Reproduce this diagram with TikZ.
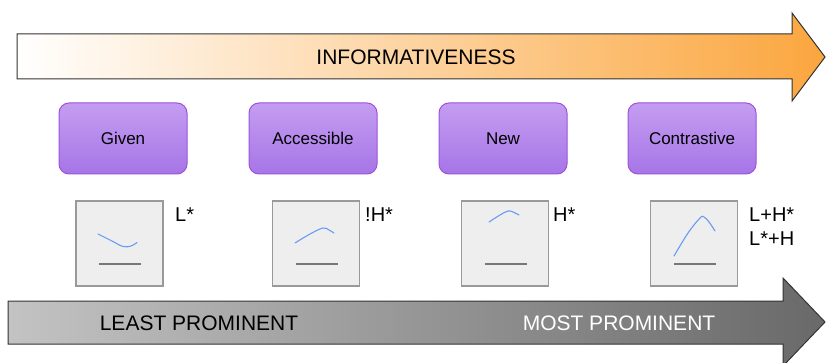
\documentclass[tikz,border=0pt]{standalone}
\usepackage{fontspec}
\setmainfont{Liberation Sans}
\definecolor{infoorange}{HTML}{FBA63E}
\definecolor{arrowline}{HTML}{333333}
\definecolor{promlight}{HTML}{C3C3C3}
\definecolor{promdark}{HTML}{696969}
\definecolor{cattop}{HTML}{C49DF1}
\definecolor{catbottom}{HTML}{A675E7}
\definecolor{catborder}{HTML}{A050DC}
\definecolor{sqfill}{HTML}{EEEEEE}
\definecolor{sqborder}{HTML}{999999}
\definecolor{pitchblue}{HTML}{6A9BF4}
\definecolor{refgray}{HTML}{777777}
\begin{document}
\begin{tikzpicture}[x=1pt,y=-1pt,
	category/.style={draw=catborder,line width=1pt,rounded corners=10pt,top color=cattop,bottom color=catbottom,minimum width=128pt,minimum height=71pt,inner sep=0pt,font=\fontsize{17}{20}\selectfont},
	contour/.style={draw=sqborder,fill=sqfill,line width=1.2pt,minimum width=87pt,minimum height=85pt,inner sep=0pt},
	pitch/.style={draw=pitchblue,line width=1.1pt,line cap=round},
	ref/.style={draw=refgray,line width=1.1pt},
	accent/.style={anchor=base west,inner sep=0pt,font=\fontsize{20}{24}\selectfont},
	bigtext/.style={inner sep=0pt,font=\fontsize{21}{25}\selectfont}]
	\useasboundingbox (0,0) rectangle (826,363);
	% arrows
	\shadedraw[left color=white,right color=infoorange,draw=arrowline,line width=1pt] (17,34) -- (792,34) -- (792,13) -- (825,57) -- (792,101) -- (792,79) -- (17,79) -- cycle;
	\shadedraw[left color=promlight,right color=promdark,draw=arrowline,line width=1pt] (8,301) -- (783,301) -- (783,278) -- (825,322) -- (783,366) -- (783,344) -- (8,344) -- cycle;
	\node[bigtext] (informativeness) at (416,57) {INFORMATIVENESS};
	\node[bigtext] (least) at (199,323) {LEAST PROMINENT};
	\node[bigtext,text=white] (most) at (619,323) {MOST PROMINENT};
	% categories
	\node[category] (given) at (123,138.5) {Given};
	\node[category] (accessible) at (313,138.5) {Accessible};
	\node[category] (new) at (503,138.5) {New};
	\node[category] (contrastive) at (692,138.5) {Contrastive};
	% contours
	\node[contour] (sqgiven) at (119.5,243.5) {};
	\node[contour] (sqaccessible) at (316,243.5) {};
	\node[contour] (sqnew) at (505,243.5) {};
	\node[contour] (sqcontrastive) at (694,243.5) {};
	\draw[ref] (99,264) -- (141,264);
	\draw[ref] (296,264) -- (338,264);
	\draw[ref] (485,264) -- (527,264);
	\draw[ref] (674,264) -- (716,264);
	\draw[pitch] plot[smooth,tension=0.6] coordinates {(98,234) (112,241) (123,246.5) (131,246) (137,242.5)};
	\draw[pitch] plot[smooth,tension=0.6] coordinates {(295,243) (310,234) (323,228) (329,230) (334,233)};
	\draw[pitch] plot[smooth,tension=0.6] coordinates {(489,222) (500,215) (508,211) (513,212) (519,215)};
	\draw[pitch] plot[smooth,tension=0.6] coordinates {(674,256) (688,233) (700,218) (704,217) (709,222) (715,231)};
	% accents
	\node[accent] (lstar) at (175,222) {L*};
	\node[accent] (downstep) at (365,222) {!H*};
	\node[accent] (hstar) at (553,222) {H*};
	\node[accent] (lhstar) at (749,222) {L+H*};
	\node[accent] (lstarh) at (749,245) {L*+H};
\end{tikzpicture}
\end{document}
